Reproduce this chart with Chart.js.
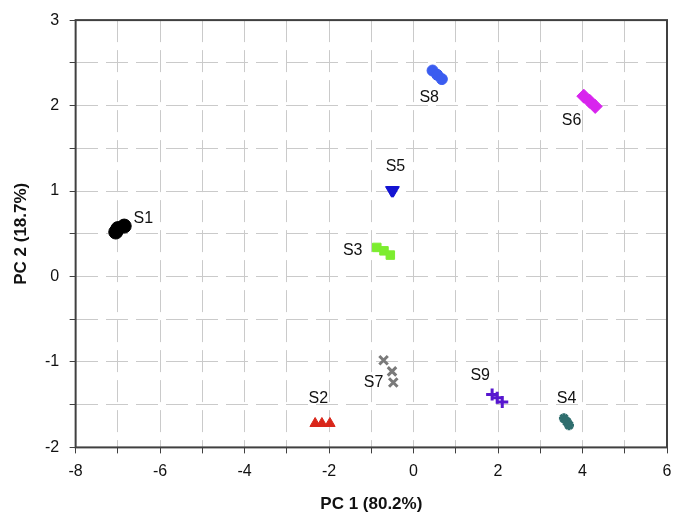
<!DOCTYPE html>
<html>
<head>
<meta charset="utf-8">
<script src="https://cdn.jsdelivr.net/npm/chart.js@4"></script>
<style>
  html, body { margin: 0; padding: 0; background: #fff; }
  #wrap { width: 676px; height: 517px; }
</style>
</head>
<body>
<div id="wrap"><canvas id="pca" width="676" height="517"></canvas></div>
<script>
// sample names
const samples = ["S1", "S2", "S3", "S4", "S5", "S6", "S7", "S8", "S9"];

// PC1 / PC2 scores per sample (three replicates each)
const pc1 = [
  [-7.05, -7.0, -6.85],
  [-2.33, -2.17, -1.98],
  [-0.87, -0.70, -0.55],
  [3.56, 3.63, 3.68],
  [-0.52, -0.50, -0.48],
  [4.03, 4.17, 4.30],
  [-0.71, -0.51, -0.48],
  [0.45, 0.56, 0.67],
  [1.86, 1.98, 2.10]
];
const pc2 = [
  [0.52, 0.56, 0.59],
  [-1.72, -1.72, -1.72],
  [0.34, 0.30, 0.25],
  [-1.66, -1.70, -1.74],
  [1.01, 1.01, 1.01],
  [2.11, 2.05, 1.99],
  [-0.98, -1.11, -1.24],
  [2.41, 2.36, 2.31],
  [-1.38, -1.42, -1.47]
];

// axis tick labels
const xLabelTicks = [-8, -6, -4, -2, 0, 2, 4, 6];
const yLabelTicks = [-2, -1, 0, 1, 2, 3];

// styling, kept apart from the data
const colors = ["#000000", "#d9261a", "#7ced2f", "#2f6e6e", "#1414d2", "#d824ee", "#7a7a7a", "#3a5cf0", "#5716cf"];
const shapes = ["circle", "triangle", "rect", "star", "triangle", "rectRot", "crossRot", "circle", "cross"];
const rotations = [0, 0, 0, 0, 180, 0, 0, 0, 0];
const sizes = [7, 6, 6, 5, 7, 7, 6, 5.5, 6];
const labelOffsets = [[24, -10], [-4, -25], [-31, -1], [0, -23], [3, -24], [-18, 19], [-16, 11], [-8, 23], [-17, -23]];

const datasets = samples.map((name, i) => {
  const lineish = shapes[i] === "crossRot" || shapes[i] === "cross" || shapes[i] === "star";
  return {
    label: name,
    data: pc1[i].map((x, k) => ({ x: x, y: pc2[i][k] })),
    pointStyle: shapes[i],
    rotation: rotations[i],
    pointRadius: sizes[i],
    backgroundColor: colors[i],
    borderColor: colors[i],
    borderWidth: lineish ? 3 : 1
  };
});

// draws the S1..S9 names next to each group
const groupLabels = {
  id: "groupLabels",
  afterDatasetsDraw(chart) {
    const c = chart.ctx, xs = chart.scales.x, ys = chart.scales.y;
    c.save();
    c.font = "16px 'Liberation Sans', Arial, sans-serif";
    c.fillStyle = "#111";
    c.textAlign = "center";
    c.textBaseline = "middle";
    samples.forEach((name, i) => {
      const mx = pc1[i].reduce((a, b) => a + b, 0) / pc1[i].length;
      const my = pc2[i].reduce((a, b) => a + b, 0) / pc2[i].length;
      c.fillText(name, xs.getPixelForValue(mx) + labelOffsets[i][0], ys.getPixelForValue(my) + labelOffsets[i][1]);
    });
    c.restore();
  }
};

// full box round the plot area
const frame = {
  id: "frame",
  afterDraw(chart) {
    const a = chart.chartArea, c = chart.ctx;
    c.save();
    c.strokeStyle = "#404040";
    c.lineWidth = 2;
    c.strokeRect(a.left, a.top, a.right - a.left, a.bottom - a.top);
    c.restore();
  }
};

const tickFont = { family: "'Liberation Sans', Arial, sans-serif", size: 16 };
const titleFont = { family: "'Liberation Sans', Arial, sans-serif", size: 17, weight: "bold" };
const gridStyle = { color: "#cacaca", lineWidth: 1, tickColor: "#404040", tickLength: 6, tickWidth: 1, tickBorderDash: [] };
const borderStyle = { display: false, dash: [22, 8] };

new Chart(document.getElementById("pca"), {
  type: "scatter",
  data: { datasets: datasets },
  options: {
    responsive: false,
    devicePixelRatio: 1,
    animation: false,
    layout: { padding: { top: 18, right: 0, left: 11, bottom: 2 } },
    plugins: { legend: { display: false }, tooltip: { enabled: false } },
    scales: {
      x: {
        min: -8, max: 6,
        afterFit: scale => { scale.paddingRight = 8; },
        ticks: {
          stepSize: 1, autoSkip: false, maxRotation: 0, color: "#111", font: tickFont, padding: 9,
          callback: v => xLabelTicks.includes(v) ? String(v) : ""
        },
        grid: gridStyle,
        border: borderStyle,
        title: { display: true, text: "PC 1 (80.2%)", color: "#111", font: titleFont, padding: { top: 4, bottom: 0 } }
      },
      y: {
        min: -2, max: 3,
        ticks: {
          stepSize: 0.5, autoSkip: false, color: "#111", font: tickFont, padding: 10.5,
          callback: v => yLabelTicks.includes(v) ? String(v) : ""
        },
        grid: gridStyle,
        border: borderStyle,
        title: { display: true, text: "PC 2 (18.7%)", color: "#111", font: titleFont, padding: { top: 0, bottom: 3 } }
      }
    }
  },
  plugins: [groupLabels, frame]
});
</script>
</body>
</html>
